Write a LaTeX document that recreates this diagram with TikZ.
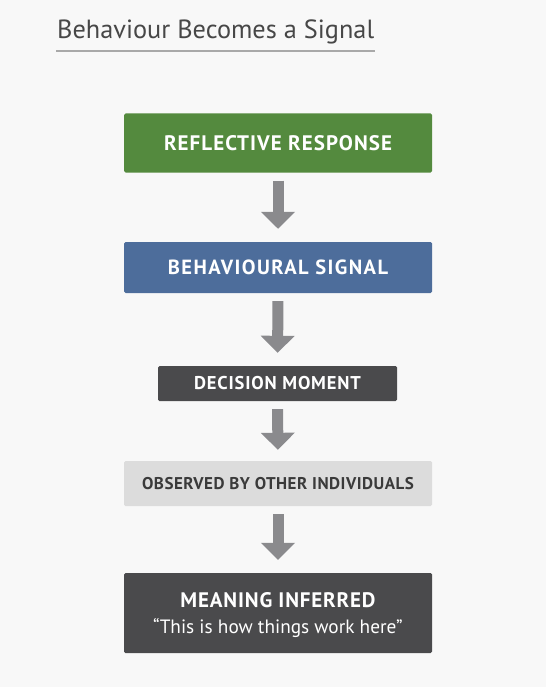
\documentclass[tikz,border=0pt]{standalone}
\usepackage{fontspec}
\setmainfont{PT Sans}
\usetikzlibrary{arrows.meta}
\definecolor{bgc}{HTML}{F8F8F8}
\definecolor{titlec}{HTML}{474747}
\definecolor{rulec}{HTML}{A9A9A9}
\definecolor{greenc}{HTML}{548A3E}
\definecolor{bluec}{HTML}{4D6D9B}
\definecolor{darkc}{HTML}{4A4A4C}
\definecolor{lightc}{HTML}{DCDCDC}
\definecolor{lighttext}{HTML}{3A3A3A}
\definecolor{arrowc}{HTML}{8A8A8D}
\newcommand{\lsp}[1]{\addfontfeature{LetterSpace=#1}}
\tikzset{
  box/.style={rectangle, rounded corners=1.5pt, inner sep=0pt, align=center, text=white, font=\bfseries},
  flowarrow/.style={draw=arrowc, line width=11pt, shorten <=8pt, shorten >=13pt,
     -{Triangle[length=17pt, width=33pt, color=arrowc]}}
}
\begin{document}
\begin{tikzpicture}[x=1pt, y=-1pt]
\fill[bgc] (0,0) rectangle (546,687);
\useasboundingbox (0,0) rectangle (546,687);
\node[anchor=base west, inner sep=0pt, text=titlec, font=\fontsize{26.3}{30}\selectfont] (title) at (57,39) {Behaviour Becomes a Signal};
\coordinate (ul1) at (56,51);
\coordinate (ul2) at (375,51);
\draw[rulec, line width=1.3pt] (ul1) -- (ul2);

\node[box, fill=greenc, minimum width=308pt, minimum height=59pt, font=\bfseries\fontsize{21}{24}\selectfont\lsp{5}] (b1) at (278,143) {REFLECTIVE RESPONSE};
\node[box, fill=bluec, minimum width=308pt, minimum height=51pt, font=\bfseries\fontsize{20.5}{23}\selectfont\lsp{7}] (b2) at (278,267.5) {BEHAVIOURAL SIGNAL};
\node[box, fill=darkc, minimum width=239pt, minimum height=35pt, font=\bfseries\fontsize{18.5}{21}\selectfont\lsp{4.5}] (b3) at (277.5,383.5) {DECISION MOMENT};
\node[box, fill=lightc, text=lighttext, minimum width=308pt, minimum height=45pt, font=\bfseries\fontsize{17}{20}\selectfont\lsp{3}] (b4) at (278,483.5) {OBSERVED BY OTHER INDIVIDUALS};
\node[box, fill=darkc, minimum width=308pt, minimum height=80pt] (b5) at (278,613) {};
\node[text=white, inner sep=0pt, font=\bfseries\fontsize{21}{24}\selectfont\lsp{4}] (b5a) at (278,600) {MEANING INFERRED};
\node[text=white, inner sep=0pt, font=\fontsize{19.3}{22}\selectfont] (b5b) at (278,628) {“This is how things work here”};

\draw[flowarrow] (b1.south) -- (b2.north);
\draw[flowarrow] (b2.south) -- (b3.north);
\draw[flowarrow, shorten >=11pt] (b3.south) -- (b4.north);
\draw[flowarrow] (b4.south) -- (b5.north);
\end{tikzpicture}
\end{document}
